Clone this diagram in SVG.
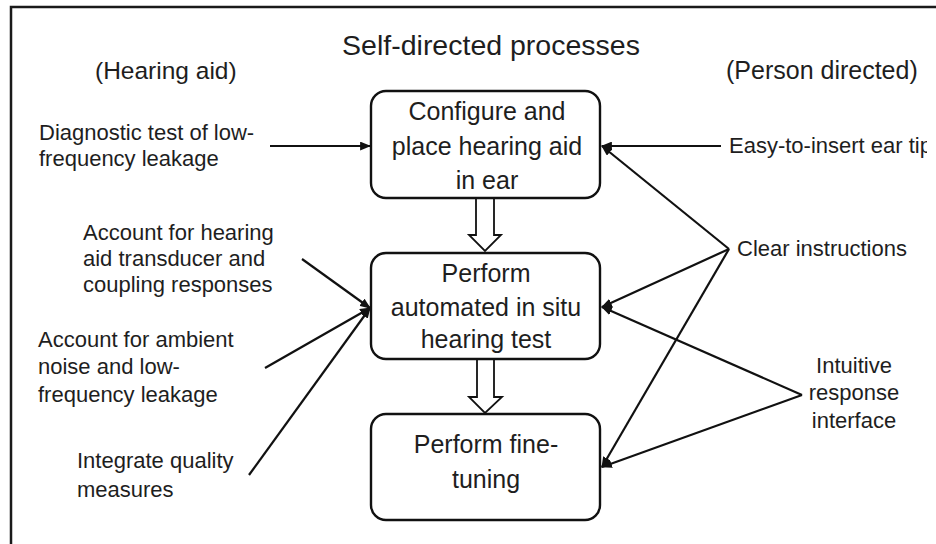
<svg xmlns="http://www.w3.org/2000/svg" width="936" height="544" viewBox="0 0 936 544">
<style>
text{font-family:"Liberation Sans",Arial,sans-serif;fill:#1e1e1e}
.side{font-size:22px}
.box{fill:#fff;stroke:#111;stroke-width:2.4}
.bt{font-size:25px;text-anchor:middle}
.ln{stroke:#111;stroke-width:2.2;fill:none}
.ha{fill:#fff;stroke:#111;stroke-width:1.8;stroke-linejoin:miter}
</style>
<defs>
<marker id="ah" viewBox="0 0 10 8" refX="9" refY="4" markerWidth="11" markerHeight="9" markerUnits="userSpaceOnUse" orient="auto">
<path d="M0,0 L10,4 L0,8 z" fill="#111"/>
</marker>
<clipPath id="clipR"><rect x="0" y="0" width="927" height="544"/></clipPath>
</defs>
<rect width="936" height="544" fill="#fff"/>
<path d="M11,544 V7 H936" fill="none" stroke="#1a1a1a" stroke-width="2.5"/>

<g id="titles">
<text x="491" y="55" font-size="28.5" text-anchor="middle">Self-directed processes</text>
<text x="95" y="79" font-size="24.5">(Hearing aid)</text>
<text x="726" y="79" font-size="25">(Person directed)</text>
</g>

<g id="connectors">
<line class="ln" x1="270" y1="146" x2="370" y2="146" marker-end="url(#ah)"/>
<line class="ln" x1="721" y1="146" x2="602" y2="146" marker-end="url(#ah)"/>
<line class="ln" x1="729" y1="249" x2="602" y2="146" marker-end="url(#ah)"/>
<line class="ln" x1="729" y1="249" x2="602" y2="307" marker-end="url(#ah)"/>
<line class="ln" x1="729" y1="249" x2="602" y2="467" marker-end="url(#ah)"/>
<line class="ln" x1="802" y1="395" x2="602" y2="307" marker-end="url(#ah)"/>
<line class="ln" x1="802" y1="395" x2="602" y2="467" marker-end="url(#ah)"/>
<line class="ln" x1="302" y1="259" x2="370" y2="308" marker-end="url(#ah)"/>
<line class="ln" x1="265" y1="368" x2="370" y2="308" marker-end="url(#ah)"/>
<line class="ln" x1="249" y1="475" x2="370" y2="308" marker-end="url(#ah)"/>
<path class="ha" d="M476,198 V235 H469 L485,251 L501,235 H494 V198"/>
<path class="ha" d="M477,359 V397 H469 L485,413 L502,397 H494 V359"/>
</g>

<g id="node-configure">
<rect class="box" x="371" y="91" width="229" height="107" rx="15"/>
<text class="bt" x="487" y="120">Configure and</text>
<text class="bt" x="487" y="155">place hearing aid</text>
<text class="bt" x="487" y="189">in ear</text>
</g>

<g id="node-test">
<rect class="box" x="371" y="253" width="229" height="106" rx="15"/>
<text class="bt" x="486" y="282">Perform</text>
<text class="bt" x="486" y="316">automated in situ</text>
<text class="bt" x="486" y="348">hearing test</text>
</g>

<g id="node-finetune">
<rect class="box" x="371" y="414" width="229" height="106" rx="15"/>
<text class="bt" x="486" y="453">Perform fine-</text>
<text class="bt" x="486" y="488">tuning</text>
</g>

<g id="label-diagnostic">
<text class="side" x="39" y="140">Diagnostic test of low-</text>
<text class="side" x="39" y="166">frequency leakage</text>
</g>
<g id="label-transducer">
<text class="side" x="83" y="240">Account for hearing</text>
<text class="side" x="83" y="266">aid transducer and</text>
<text class="side" x="83" y="292">coupling responses</text>
</g>
<g id="label-ambient">
<text class="side" x="38" y="347">Account for ambient</text>
<text class="side" x="38" y="374">noise and low-</text>
<text class="side" x="38" y="402">frequency leakage</text>
</g>
<g id="label-quality">
<text class="side" x="77" y="468">Integrate quality</text>
<text class="side" x="77" y="497">measures</text>
</g>
<g id="label-eartip">
<text class="side" x="729" y="153" clip-path="url(#clipR)">Easy-to-insert ear tip</text>
</g>
<g id="label-instructions">
<text class="side" x="737" y="256">Clear instructions</text>
</g>
<g id="label-interface">
<text class="side" x="854" y="373" text-anchor="middle">Intuitive</text>
<text class="side" x="854" y="400" text-anchor="middle">response</text>
<text class="side" x="854" y="428" text-anchor="middle">interface</text>
</g>
</svg>
